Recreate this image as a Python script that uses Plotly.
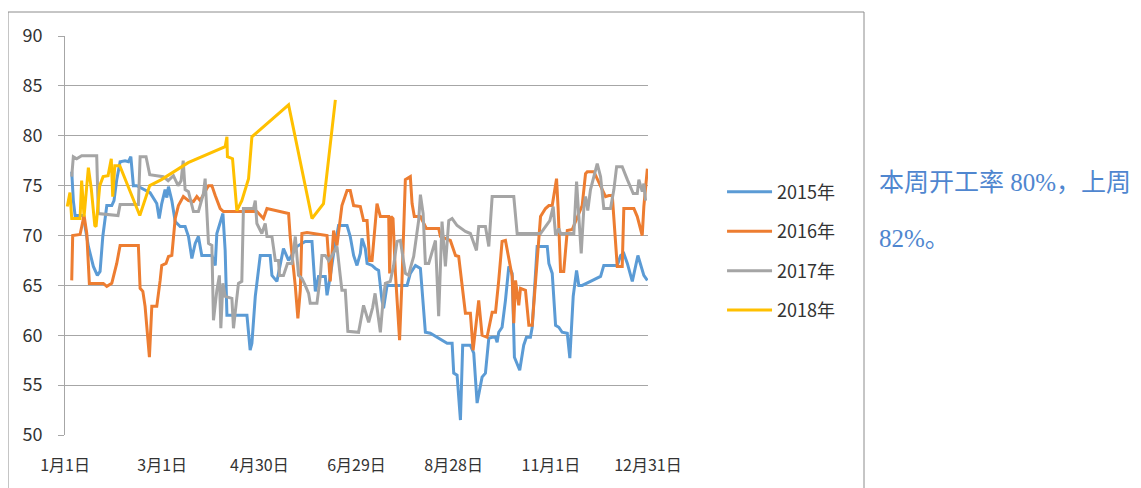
import numpy as np
import plotly.graph_objects as go

# x = day of year (0 = 1月1日), y = 开工率
d15 = [4.2,5.2,6.3,11.4,14.6,17.7,20.2,21.9,23.6,25,26.1,29.2,30.6,32.3,34.4,37.5,39.6,41.1,42.7,44.8,
       53.1,57.3,58.8,60.4,62.5,63.6,64.6,66.7,68.8,71.9,75,77.1,79.2,81.3,83.3,85.4,91.7,93.8,94.8,98.6,
       100,101.1,113.6,115.6,116.7,118.8,121.9,128.1,129.2,132.3,136.4,139.6,144.8,150,154.2,156.3,158.3,162.5,163.6,165.6,
       167.7,170.8,176.1,178.1,179.2,180.2,182.3,184.4,185.4,187.5,188.6,191.7,193.8,195.8,197.9,198.9,201.1,213.6,215.6,218.8,
       221.9,225,228.1,233.3,238.6,241.7,242.7,244.8,246.9,248.3,253.1,255.2,257.3,260.4,262.5,264.6,266.7,268.8,269.8,270.8,
       272.9,275,277.1,279.2,280.6,283.9,286.4,288.1,290.6,291.7,294.8,301.1,302.1,304.2,306.3,308.3,310.4,313.6,315.2,317.3,
       319.4,320.8,322.9,328.1,332.3,334.4,336.4,344.8,346.9,348.9,351.1,354.2,357.7,361.4,363.6]
v15 = [76.4,73.5,72,72,68.9,66.9,66,66.4,69.9,72,73,73,73.5,75.6,77.4,77.5,77.4,77.9,75,75,
       74.3,73.2,71.7,73.2,74.6,73.8,74.9,73.5,71.4,70.9,70.9,69.9,67.7,69.2,69.9,68,68,67,70.2,72.2,
       68.5,62,62,58.5,59.2,63.9,68,68,66,65.4,68.7,67.5,68.9,69.4,69.4,64.4,65.9,65.9,64,65.9,
       68.2,71,71,69.9,68.9,68,67,68.2,69.7,68.7,67.2,67,66.7,66.5,63.5,62.7,65,65,66.2,67,
       66.7,60.3,60.2,59.7,59.2,59.2,56.2,56,51.5,59,59,58.2,53.2,55.8,56.2,59.7,59.8,59.8,59.3,60.3,
       60.8,63.5,66.9,66.2,57.8,56.5,59,59.8,59.8,60.8,68.9,68.9,67.2,66.2,61,60.8,60.3,60.2,57.7,63.9,
       66.5,65,65,65.4,65.7,65.9,67,67,68,68.2,67.2,65.4,68,66,65.5]

d16 = [4.2,4.8,9.4,11.9,13.6,15.2,23.9,26.1,29.2,32.3,34.4,45.8,46.9,48.6,50,52.7,54.2,57.3,59.4,60.4,
       63.1,64.6,66.7,68.8,70.8,73.9,77.1,80.2,82.3,84.4,89.6,91.7,93.8,96.9,98.9,119.8,123.9,126.1,139.6,140.6,
       143.8,145.4,146.9,147.9,151.1,156.3,163.6,165.6,167.7,169.8,172.9,176.1,178.1,180.2,184.4,186.4,188.6,190.2,191.7,194.8,
       196.9,202.1,202.7,203.6,204.8,206.3,208.9,210.4,212.5,215.6,216.7,218.1,221.9,225.6,233.3,234.4,240.6,243.8,245.8,250,
       253.1,254.8,258.3,260.4,263.5,266.7,268.8,270.8,272.9,275,277.1,279.2,280.2,281.3,283.3,284.4,287.5,289.6,291.7,296.9,
       300,302.1,304.2,306.9,307.9,309.4,311.4,313.6,316.7,322.9,325,326.1,330.2,334.4,337.5,339.6,341.7,344.8,347.9,348.9,
       355.2,357.3,360.4,361.4,363.6]
v16 = [65.5,70,70.1,72,70.2,65.2,65.2,64.9,65.2,67.2,69,69,64.7,64.4,62.9,57.8,62.9,62.9,65.5,67,
       67.2,67.9,68,71.7,73,73.9,73.5,73.4,73.9,73.5,75,75,74,72.7,72.4,72.4,71.7,72.7,72.2,69.9,
       64.9,61.7,64.5,70.2,70.3,70.2,70,65.4,70.5,69,73,74.5,74.5,73,72.9,71.5,71.5,67.5,67.5,73.2,
       71.9,71.9,66.2,71.9,71.7,66.2,59.5,65.5,75.6,75.9,73.2,71.9,71.9,70.7,70.7,69.9,69.5,68,67.9,62.2,
       62.2,58.5,63.5,60,59.8,62.3,62.3,65.5,69.4,69.5,67.5,65.9,61.2,65.5,63,64.7,64.5,61,61,71.9,
       72.7,73,73,75.7,72.7,66.4,66.4,70.5,70.6,73,76.2,76.4,76.4,74.9,73.9,74,74,66.9,66.9,72.7,
       72.7,71.9,70,72.9,76.7]

d17 = [4.2,5.2,7.3,10.4,19.8,20.8,33.1,34.4,45.8,46.9,50.6,52.9,61.4,64.4,67.7,70.6,72.5,73.8,75,77.1,
       80.2,83.3,86.4,87.5,89.6,91.7,92.7,94.8,96.4,97.3,98.6,100,104.2,105.2,106.9,108.3,110.4,111.4,117.7,118.8,
       119.8,122.9,125,126.1,129.2,131.3,133.3,133.9,136.4,138.9,141.7,143.8,145.8,147.9,150,152.1,153.1,157.3,159.4,160.4,
       162.5,164.6,166.7,169.8,171.9,172.9,175,176.6,183.3,186.4,189.6,192.1,193.6,196.9,198.6,200,203.1,205.2,207.3,209.4,
       212.5,214.6,215.6,217.7,220.8,221.9,223.6,225,227.1,231.3,233.3,235.4,237.5,239.6,241.7,244.8,250,253.1,256.9,258.3,
       262.5,264.6,266.7,280.2,282.3,296.9,300,302.7,304.8,306.3,308.3,309.4,317.7,319.4,322.3,324,325,326.4,328.1,330.6,
       332.3,334.4,336.4,340.6,342.7,344.4,347.9,351.1,354.8,357.3,358.3,360.4,361.4,362.5]
v17 = [75.9,77.9,77.7,78,78,72.2,72,73.1,73.1,77.9,77.9,76.1,75.9,75.5,76,75,75.5,77.5,74.6,74.4,
       72.4,72.4,74.2,75.7,69.2,69,61.5,64.5,66,60.7,65.2,63.9,63.7,60.7,63.2,65.2,65.4,72.7,72.7,73.5,
       71.2,70.2,71.2,69.9,69.9,67.5,67.5,66,66,67.2,67.2,69.9,66,65.7,65,64.2,63.2,63.2,65.9,68,
       68,67.5,68,68.9,65.9,64.5,64.5,60.4,60.3,63,61.3,62.8,64.2,60.3,63.5,65.2,65.4,67,69.4,69.5,
       66.2,66,66.7,67.9,71.5,74.1,72.2,67.2,67.2,69.5,61.9,71.4,66.9,71.5,71.7,71,70.4,70.2,68.5,70.9,
       70.9,68.9,73.9,73.9,70.2,70.2,70.9,71.5,72.9,70,70.7,70.2,70.2,75.4,68.2,72.9,73.9,72.5,74.6,76.1,
       77.2,75.9,72.7,72.7,74.6,76.9,76.9,75.6,74.2,74.2,75.6,74.4,75.2,73.5]

d18 = [1.4,3.1,4.2,9.4,10.4,11.9,14.6,16.4,18.6,19.4,21.7,23.8,26.9,28.9,29.8,31.1,34.2,38.3,46.7,52.9,
       60.2,76.9,100,101.1,101.4,104.6,107.3,110.4,114.6,116.7,139.6,154.2,161.4,168.8]
v18 = [72.9,74.3,71.7,71.7,75.5,71.9,76.8,74.7,71,70.9,75,75.9,76,77.7,73.9,77,77,75.4,72,75,
       75.6,77.3,78.9,79.9,77.9,77.7,72.5,73.5,75.7,79.9,83.1,71.7,73.2,83.6]

series_names = ["2015年", "2016年", "2017年", "2018年"]
series_colors = ["#5b9bd5", "#ed7d31", "#a5a5a5", "#ffc000"]
x_tick_labels = ["1月1日", "3月1日", "4月30日", "6月29日", "8月28日", "11月1日", "12月31日"]
note_lines = ["本周开工率 80%，上周", "82%。"]

fig = go.Figure()
for name, color, xs, ys in zip(series_names, series_colors, [d15, d16, d17, d18], [v15, v16, v17, v18]):
    fig.add_trace(go.Scatter(x=xs, y=ys, mode="lines", name=name, legendgroup=name,
                             line=dict(color=color, width=3), hoverinfo="skip"))

txt_color = "#333333"
font_family = "Noto Sans CJK SC"

# the page body adds an 8px offset, so margins are set 8px smaller on the left/top
fig.update_layout(
    width=1141, height=488,
    margin=dict(l=57, r=501, t=28, b=61),
    paper_bgcolor="white", plot_bgcolor="white",
    showlegend=True,
    legend=dict(x=1.127, y=0.655, xanchor="left", yanchor="top",
                font=dict(family=font_family, size=18, color=txt_color),
                tracegroupgap=13, itemwidth=45, bgcolor="rgba(0,0,0,0)"),
    xaxis=dict(range=[0, 364], tickvals=list(np.linspace(0, 364, len(x_tick_labels))),
               ticktext=x_tick_labels, showgrid=False, zeroline=False, showline=False,
               ticks="", tickfont=dict(family=font_family, size=16, color=txt_color),
               ticklabelstandoff=19),
    yaxis=dict(range=[50, 90], dtick=5, showgrid=True, gridcolor="#a6a6a6", gridwidth=1,
               zeroline=False, showline=True, linecolor="#a6a6a6", linewidth=1,
               ticks="outside", ticklen=6, tickcolor="#a6a6a6",
               tickfont=dict(family=font_family, size=18, color=txt_color),
               ticklabelstandoff=12),
)

# chart frame border
fig.add_shape(type="rect", xref="paper", yref="paper",
              x0=(8 - 65) / 583, x1=(864 - 65) / 583, y0=-0.3, y1=1 + 24 / 399,
              line=dict(color="#8c8c8c", width=1), fillcolor="rgba(0,0,0,0)", layer="below")

for i, txt in enumerate(note_lines):
    fig.add_annotation(text=txt, xref="paper", yref="paper",
                       x=(877 - 65) / 583, y=[0.6316, 0.4937][i], xanchor="left", yanchor="middle",
                       showarrow=False,
                       font=dict(family="Liberation Serif, Noto Sans CJK SC", size=25, color="#4f86cf"))

fig.write_html("out.html")
